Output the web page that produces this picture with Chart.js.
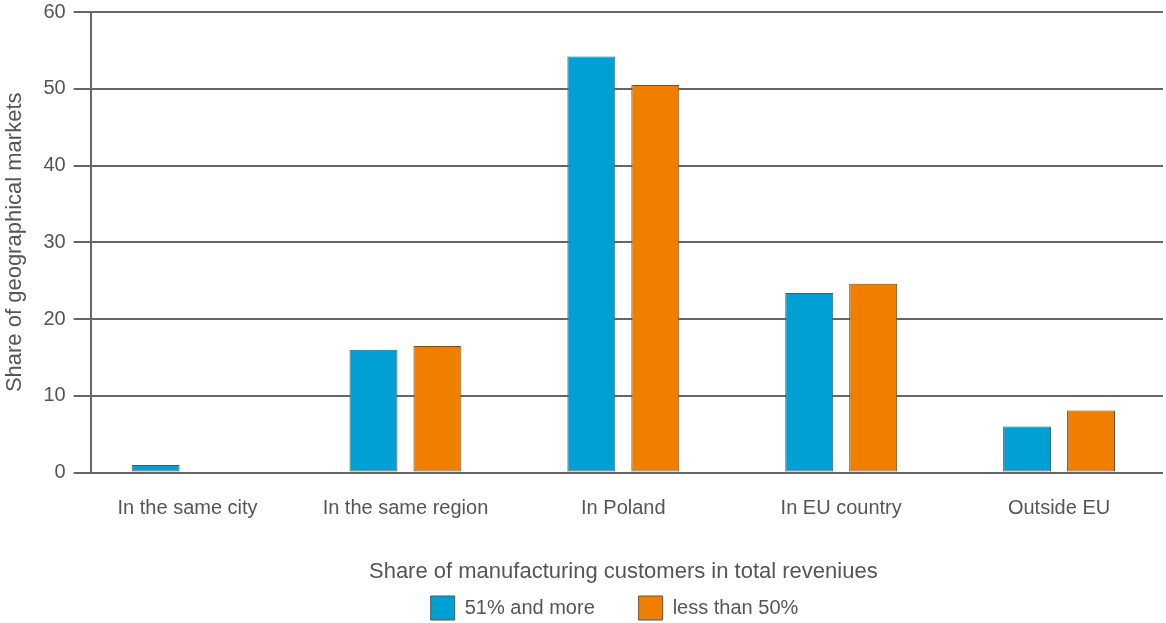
<!DOCTYPE html>
<html>
<head>
<meta charset="utf-8">
<script src="https://cdn.jsdelivr.net/npm/chart.js@4"></script>
<style>
  body { margin: 0; background: #fff; }
</style>
</head>
<body>
<canvas id="myChart" width="1166" height="623"></canvas>
<script>
const categories = ['In the same city', 'In the same region', 'In Poland', 'In EU country', 'Outside EU'];
const seriesNames = ['51% and more', 'less than 50%'];
const moreThan51 = [1, 16, 54.2, 23.4, 6];
const lessThan50 = [0, 16.5, 50.5, 24.6, 8.1];
const yTicks = [0, 10, 20, 30, 40, 50, 60];

const textColor = '#555';
const lineColor = '#666';
const font = 'Liberation Sans, Arial, sans-serif';

// the source plot spreads the categories a bit wider than the y-axis area,
// and its legend sits right of centre, so nudge both after layout
const nudge = {
  id: 'nudge',
  afterLayout(chart) {
    const x = chart.scales.x;
    x.left -= 12;
    x.right += 5;
    x.width = x.right - x.left;
    x.configure();
    const lg = chart.legend;
    lg.left += 33;
    lg.right += 33;
  }
};

const ctx = document.getElementById('myChart');

new Chart(ctx, {
  type: 'bar',
  data: {
    labels: categories,
    datasets: [{
      label: seriesNames[0],
      data: moreThan51,
      backgroundColor: '#00a0d4',
      borderColor: '#555',
      borderWidth: 1,
      borderSkipped: false
    }, {
      label: seriesNames[1],
      data: lessThan50,
      backgroundColor: '#f07f00',
      borderColor: '#555',
      borderWidth: 1,
      borderSkipped: false
    }]
  },
  plugins: [nudge],
  options: {
    responsive: false,
    animation: false,
    barPercentage: 0.75,
    categoryPercentage: 0.587,
    layout: {
      padding: { top: 5, left: 0, right: 3, bottom: 0 }
    },
    scales: {
      x: {
        grid: { display: false, drawTicks: false },
        border: { display: false },
        ticks: {
          color: textColor,
          padding: 24,
          font: { family: font, size: 20 }
        },
        title: {
          display: true,
          text: 'Share of manufacturing customers in total reveniues',
          color: textColor,
          font: { family: font, size: 22 },
          padding: { top: 14, bottom: 6 }
        }
      },
      y: {
        min: 0,
        max: 60,
        afterBuildTicks: axis => { axis.ticks = yTicks.map(v => ({ value: v })); },
        grid: {
          color: lineColor,
          lineWidth: 2,
          tickLength: 17
        },
        border: { display: true, color: lineColor, width: 2 },
        ticks: {
          color: textColor,
          padding: 8,
          font: { family: font, size: 20, lineHeight: 0.4 }
        },
        title: {
          display: true,
          text: 'Share of geographical markets',
          color: textColor,
          font: { family: font, size: 22 },
          padding: { top: 2, bottom: 7 }
        }
      }
    },
    plugins: {
      tooltip: { enabled: false },
      legend: {
        position: 'bottom',
        maxHeight: 32,
        labels: {
          color: textColor,
          boxWidth: 24,
          boxHeight: 24,
          padding: 5,
          font: { family: font, size: 20 },
          generateLabels(chart) {
            const items = Chart.defaults.plugins.legend.labels.generateLabels(chart);
            items.forEach((it, i) => {
              if (i < items.length - 1) it.text += '       ';
            });
            return items;
          }
        }
      }
    }
  }
});
</script>
</body>
</html>
